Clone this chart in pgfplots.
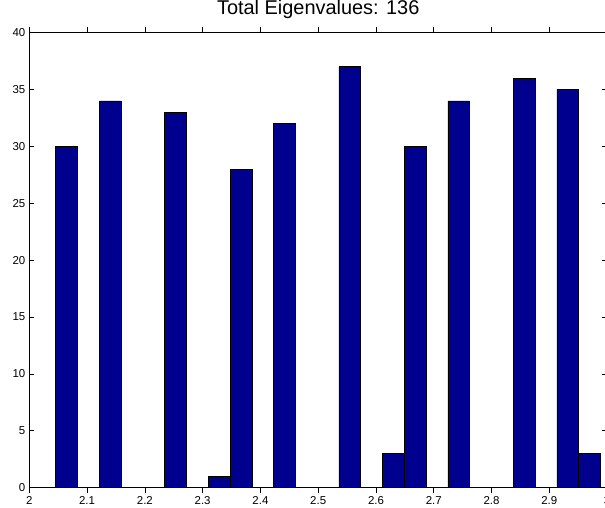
\documentclass[border=0pt]{standalone}
\usepackage{pgfplots}
\pgfplotsset{compat=1.18}
\usepackage{fontspec}
\setmainfont{Liberation Sans}
\definecolor{mblue}{RGB}{0,0,143}
\begin{document}
\begin{tikzpicture}
\begin{axis}[
  scale only axis,
  anchor=south west, at={(0,0)},
  width=577.8bp, height=455.2bp,
  xmin=2, xmax=3, ymin=0, ymax=40,
  xtick={2,2.1,2.2,2.3,2.4,2.5,2.6,2.7,2.8,2.9,3},
  xticklabels={2,2.1,2.2,2.3,2.4,2.5,2.6,2.7,2.8,2.9,3},
  ytick={0,5,10,15,20,25,30,35,40},
  tick align=inside,
  major tick length=5bp,
  tick style={black, line width=0.6bp},
  axis line style={line width=0.8bp},
  /pgf/number format/assume math mode=true,
  ticklabel style={font=\fontsize{11.5}{13}\selectfont},
  xticklabel style={yshift=-1bp, inner sep=2.5bp},
  yticklabel style={xshift=-0.5bp},
  title={Total Eigenvalues: 136},
  title style={font=\fontsize{20}{24}\selectfont, at={(0.5,1)}, anchor=base, yshift=12bp, inner sep=0pt},
  ybar, bar width=0.0377, bar shift=0pt,
]
\addplot[fill=mblue, draw=black, line width=0.5bp] coordinates {
(2.0646,30) (2.1400,34) (2.2531,33) (2.3285,1) (2.3662,28) (2.4416,32)
(2.5547,37) (2.6301,3) (2.6678,30) (2.7432,34) (2.8563,36) (2.9317,35) (2.9694,3)
};
\end{axis}
\pgfresetboundingbox
\path[use as bounding box] (-29.3bp,-20.3bp) rectangle (575.7bp,487.7bp);
\end{tikzpicture}
\end{document}
